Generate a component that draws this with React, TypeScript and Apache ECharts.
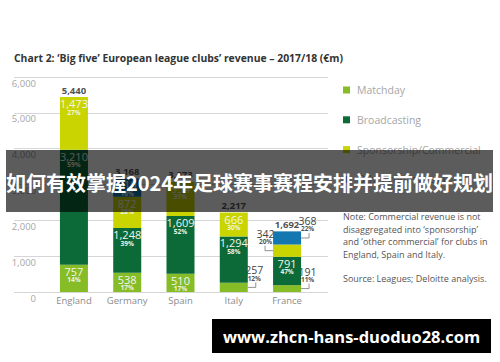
import React, { useEffect, useRef } from "react";
import * as echarts from "echarts";

const categories = ["England", "Germany", "Spain", "Italy", "France"];
const matchday = [757, 538, 510, 257, 191];
const broadcasting = [3210, 1248, 1609, 1294, 791];
const commercial = [1473, 872, 954, 666, 342];
const otherCommercial = [null, 510, null, null, 368];
const matchdayPct = [14, 17, 17, 12, 11];
const broadcastingPct = [59, 39, 52, 58, 47];
const commercialPct = [27, 28, 31, 30, 20];
const otherPct = [null, 16, null, null, 22];
const totals = [5440, 3168, 3073, 2217, 1692];
const seriesNames = ["Matchday", "Broadcasting", "Sponsorship/Commercial", "Other commercial"];
const yMax = 6000;
const yInterval = 1000;

const titleText = "Chart 2: \u2018Big five\u2019 European league clubs\u2019 revenue \u2013 2017/18 (\u20acm)";
const noteText =
  "Note: Commercial revenue is not\ndisaggregated into \u2018sponsorship\u2019\nand \u2018other commercial\u2019 for clubs in\nEngland, Spain and Italy.";
const sourceText = "Source: Leagues; Deloitte analysis.";
const bannerText = "\u5982\u4f55\u6709\u6548\u638c\u63e12024\u5e74\u8db3\u7403\u8d5b\u4e8b\u8d5b\u7a0b\u5b89\u6392\u5e76\u63d0\u524d\u505a\u597d\u89c4\u5212";
const urlText = "www.zhcn-hans-duoduo28.com";

// labels drawn outside the bar with a bracket: [category, series index, side]
const outsideLabels: [string, number, number][] = [
  ["Italy", 0, 1],
  ["France", 0, 1],
  ["France", 2, -1],
  ["France", 3, 1],
];

const colors = ["#86bc25", "#0b6a38", "#c9d400", "#1577b0"];
const FONT = '"Open Sans", sans-serif';
const BAR_W = 28;

const fmt = (v: number) => v.toLocaleString("en-US");

export default function App() {
  const ref = useRef<HTMLDivElement>(null);
  useEffect(() => {
    document.body.style.margin = "0";
    if (!ref.current) return;
    const chart = echarts.init(ref.current, null, { renderer: "svg" });
    const values = [matchday, broadcasting, commercial, otherCommercial];
    const pcts = [matchdayPct, broadcastingPct, commercialPct, otherPct];
    const isOutside = (s: number, c: number) =>
      outsideLabels.some(([cat, si]) => si === s && categories.indexOf(cat) === c);

    const customData = outsideLabels.map(([cat, s, side]) => {
      const ci = categories.indexOf(cat);
      let low = 0;
      for (let k = 0; k < s; k++) low += (values[k][ci] as number) || 0;
      const v = values[s][ci] as number;
      return [ci, low, low + v, v, pcts[s][ci] as number, side];
    });

    const barSeries = seriesNames.map((name, s) => ({
      name,
      type: "bar",
      stack: "total",
      xAxisIndex: 1,
      yAxisIndex: 1,
      barWidth: BAR_W,
      itemStyle: { color: colors[s] },
      data: values[s],
      label: {
        show: true,
        position: "insideTop",
        distance: 1,
        formatter: (p: any) => {
          if (p.value == null || isOutside(s, p.dataIndex)) return "";
          return `{v|${fmt(p.value)}}\n{p|${pcts[s][p.dataIndex]}%}`;
        },
        rich: {
          v: { fontSize: 11, lineHeight: 11, color: "#f2f5ee", fontFamily: FONT },
          p: { fontSize: 6.5, lineHeight: 6, color: "#eef3e6", fontWeight: "bold", fontFamily: FONT },
        },
      },
    }));

    chart.setOption({
      animation: false,
      backgroundColor: "#ffffff",
      textStyle: { fontFamily: FONT },
      title: {
        text: titleText,
        left: 14,
        top: 53,
        padding: 0,
        textStyle: { fontSize: 10.4, fontWeight: "bold", color: "#333333", fontFamily: FONT },
      },
      legend: {
        orient: "vertical",
        left: 343,
        top: 83,
        padding: 0,
        itemWidth: 7,
        itemHeight: 7,
        itemGap: 15.8,
        icon: "rect",
        data: seriesNames,
        selectedMode: false,
        textStyle: { color: "#a6a6a6", fontSize: 10.5, lineHeight: 14, padding: [0, 0, 0, 2], fontFamily: FONT },
      },
      grid: [
        { left: 14, right: 172, top: 77, bottom: 70 },
        { left: 47.3, right: 186.3, top: 77, bottom: 70 },
      ],
      xAxis: [
        { gridIndex: 0, type: "category", data: categories, show: false },
        {
          gridIndex: 1,
          type: "category",
          data: categories,
          axisLine: { show: false },
          axisTick: { show: false },
          axisLabel: { color: "#8c8c8c", fontSize: 9.5, margin: 3, fontFamily: FONT },
        },
      ],
      yAxis: [
        {
          gridIndex: 0,
          type: "value",
          min: 0,
          max: yMax,
          interval: yInterval,
          axisLine: { show: false },
          axisTick: { show: false },
          splitLine: { lineStyle: { color: "#d6d6d6", width: 1 } },
          axisLabel: {
            inside: true,
            align: "right",
            verticalAlign: "top",
            margin: 22,
            padding: [1, 0, 0, 0],
            color: "#a6a6a6",
            fontSize: 9.5,
            fontFamily: FONT,
            formatter: (v: number) => fmt(v),
          },
        },
        { gridIndex: 1, type: "value", min: 0, max: yMax, interval: yInterval, show: false },
      ],
      series: [
        ...barSeries,
        {
          type: "scatter",
          name: "Total",
          xAxisIndex: 1,
          yAxisIndex: 1,
          symbolSize: 0,
          silent: true,
          data: totals,
          label: {
            show: true,
            position: "top",
            distance: 2,
            formatter: (p: any) => fmt(p.value),
            fontSize: 9.5,
            fontWeight: "bold",
            color: "#222222",
            fontFamily: FONT,
          },
        },
        {
          type: "custom",
          name: "outside",
          xAxisIndex: 1,
          yAxisIndex: 1,
          silent: true,
          encode: { x: 0, y: [1, 2] },
          data: customData,
          renderItem: (params: any, api: any) => {
            const ci = api.value(0);
            const low = api.value(1);
            const high = api.value(2);
            const val = api.value(3);
            const pct = api.value(4);
            const side = api.value(5);
            const pt = api.coord([ci, (low + high) / 2]);
            const edge = pt[0] + (side * BAR_W) / 2;
            const lx = edge + side * 8;
            const y = pt[1];
            const tx = lx - (side > 0 ? 1.5 : -0.5);
            return {
              type: "group",
              children: [
                {
                  type: "polyline",
                  shape: { points: [[edge, y], [lx, y], [lx, y - 5]] },
                  style: { stroke: "#777777", lineWidth: 0.8, fill: null },
                },
                {
                  type: "text",
                  x: tx,
                  y: y - 9,
                  style: {
                    text: pct + "%",
                    fill: "#555555",
                    font: `bold 6.5px ${FONT}`,
                    align: "center",
                    verticalAlign: "middle",
                    textAlign: "center",
                    textVerticalAlign: "middle",
                  },
                },
                {
                  type: "text",
                  x: tx,
                  y: y - 17,
                  style: {
                    text: fmt(val),
                    fill: "#444444",
                    font: `10.5px ${FONT}`,
                    align: "center",
                    verticalAlign: "middle",
                    textAlign: "center",
                    textVerticalAlign: "middle",
                  },
                },
              ],
            };
          },
        },
      ],
      graphic: [
        {
          type: "text",
          left: 343,
          top: 210.5,
          style: { text: noteText, fill: "#555555", font: `9px ${FONT}`, lineHeight: 12.5 },
        },
        {
          type: "text",
          left: 343,
          top: 272,
          style: { text: sourceText, fill: "#555555", font: `9px ${FONT}`, lineHeight: 12.5 },
        },
        {
          type: "rect",
          shape: { x: 6, y: 150, width: 487, height: 62 },
          style: { fill: "rgba(0,0,0,0.64)" },
          z: 100,
        },
        {
          type: "text",
          x: 249.5,
          y: 182,
          z: 101,
          style: {
            text: bannerText,
            fill: "#ffffff",
            font: 'bold 20px "Noto Sans CJK SC", sans-serif',
            align: "center",
            verticalAlign: "middle",
            textAlign: "center",
            textVerticalAlign: "middle",
          },
        },
        {
          type: "rect",
          shape: { x: 212, y: 319, width: 279, height: 34 },
          style: { fill: "#000000" },
          z: 100,
        },
        {
          type: "text",
          x: 351.5,
          y: 336,
          z: 101,
          style: {
            text: urlText,
            fill: "#ffffff",
            font: `bold 16.5px ${FONT}`,
            align: "center",
            verticalAlign: "middle",
            textAlign: "center",
            textVerticalAlign: "middle",
          },
        },
      ],
    });
    return () => chart.dispose();
  }, []);
  return (
    <div
      ref={ref}
      style={{ position: "absolute", left: 0, top: 0, width: 500, height: 362, background: "#fff" }}
    />
  );
}
